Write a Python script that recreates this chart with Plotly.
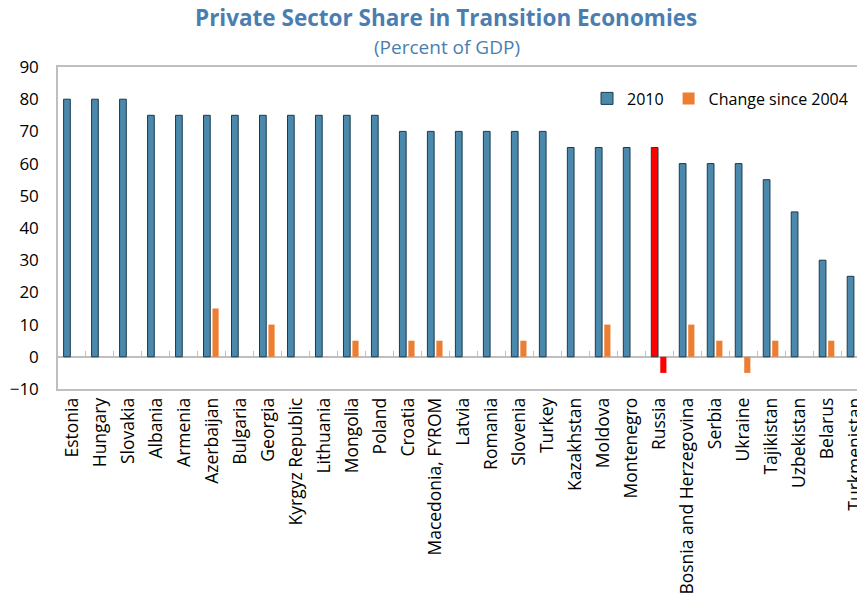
import plotly.graph_objects as go

countries = ["Estonia", "Hungary", "Slovakia", "Albania", "Armenia", "Azerbaijan", "Bulgaria",
             "Georgia", "Kyrgyz Republic", "Lithuania", "Mongolia", "Poland", "Croatia",
             "Macedonia, FYROM", "Latvia", "Romania", "Slovenia", "Turkey", "Kazakhstan",
             "Moldova", "Montenegro", "Russia", "Bosnia and Herzegovina", "Serbia", "Ukraine",
             "Tajikistan", "Uzbekistan", "Belarus", "Turkmenistan"]
share_2010 = [80, 80, 80, 75, 75, 75, 75, 75, 75, 75, 75, 75, 70, 70, 70, 70, 70, 70,
              65, 65, 65, 65, 60, 60, 60, 55, 45, 30, 25]
change_2004 = [0, 0, 0, 0, 0, 15, 0, 10, 0, 0, 5, 0, 5, 5, 0, 0, 5, 0,
               0, 10, 0, -5, 10, 5, -5, 5, 0, 5, 0]
highlight = "Russia"
title_text = "Private Sector Share in Transition Economies"
subtitle_text = "(Percent of GDP)"

BLUE = "#4A88AC"
ORANGE = "#ED7D31"
RED = "#FF0000"
TITLE_C = "#4A7EB0"
FONT = "Open Sans"

blue_colors = [RED if c == highlight else BLUE for c in countries]
orange_colors = [RED if c == highlight else ORANGE for c in countries]

fig = go.Figure()
fig.add_trace(go.Bar(x=countries, y=share_2010, name="2010",
                     marker=dict(color=blue_colors, line=dict(color="#1B3A4C", width=1)),
                     width=0.24, offset=-0.3))
fig.add_trace(go.Bar(x=countries, y=change_2004, name="Change since 2004",
                     marker=dict(color=orange_colors, line=dict(width=0)),
                     width=0.22, offset=0.02))
# invisible trace for zero-line tick axis
fig.add_trace(go.Scatter(x=countries, y=[None] * len(countries), xaxis="x2",
                         showlegend=False, hoverinfo="skip"))

fig.update_layout(
    width=857, height=606,
    margin=dict(l=58, r=0, t=67, b=217, autoexpand=False),
    paper_bgcolor="white", plot_bgcolor="white",
    barmode="overlay",
    font=dict(family=FONT, size=15, color="black"),
    annotations=[
        dict(text="<b>" + title_text + "</b>", xref="paper", yref="paper", x=0.485, y=1.0,
             yshift=50, xanchor="center", yanchor="middle", showarrow=False,
             font=dict(family=FONT, size=22.5, color=TITLE_C)),
        dict(text=subtitle_text, xref="paper", yref="paper", x=0.487, y=1.0,
             yshift=20, xanchor="center", yanchor="middle", showarrow=False,
             font=dict(family=FONT, size=19, color=TITLE_C)),
    ],
    legend=dict(orientation="h", x=0.995, xanchor="right", y=0.955, yanchor="top",
                font=dict(size=16), bgcolor="rgba(0,0,0,0)", itemwidth=30,
                traceorder="normal"),
    xaxis=dict(range=[-0.5, 28.05], showline=True, linecolor="#BFBFBF", linewidth=1.5,
               mirror=True, ticks="", tickangle=-90, showgrid=False, automargin=False,
               tickfont=dict(size=17.5)),
    xaxis2=dict(matches="x", overlaying="x", anchor="free", position=0.1, automargin=False,
                showline=False, ticks="inside", ticklen=6, tickcolor="#BFBFBF",
                tickson="boundaries", showticklabels=False, showgrid=False),
    yaxis=dict(range=[-10, 90], dtick=10, showline=True, linecolor="#BFBFBF", linewidth=1.5,
               showgrid=False, zeroline=True, zerolinecolor="#BFBFBF", zerolinewidth=1.5,
               automargin=False,
               ticks="", tickfont=dict(size=17), ticklabelstandoff=14),
)

fig.write_html("out.html")
